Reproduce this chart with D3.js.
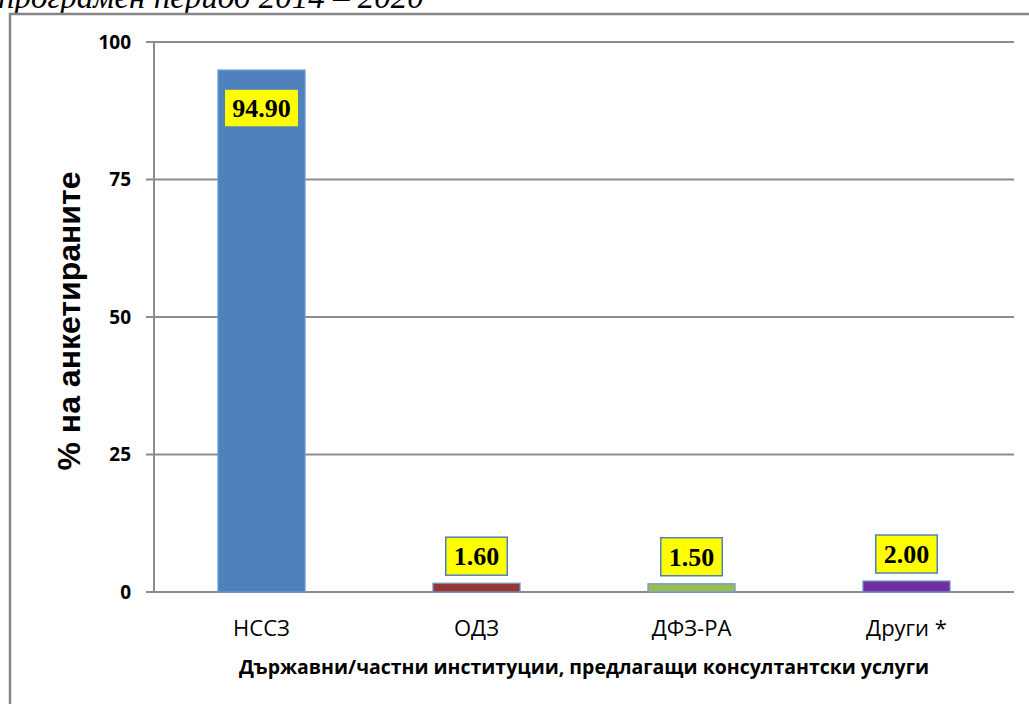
<!DOCTYPE html>
<html>
<head>
<meta charset="utf-8">
<script src="https://cdn.jsdelivr.net/npm/d3@7"></script>
<style>
  body { margin: 0; background: #fff; }
  svg { display: block; }
</style>
</head>
<body>
<script>
// chart data
var categories = ["НССЗ", "ОДЗ", "ДФЗ-РА", "Други *"];
var values = [94.90, 1.60, 1.50, 2.00];
var barColors = ["#4F81BD", "#953735", "#9BBB59", "#7030A0"];
var yTicks = [0, 25, 50, 75, 100];
var titleText = "програмен период 2014 – 2020";
var yTitle = "% на анкетираните";
var xTitle = "Държавни/частни институции, предлагащи консултантски услуги";

var W = 1029, H = 704;
var plot = {left: 154, right: 1014, top: 42, bottom: 592};

var svg = d3.select("body").append("svg")
    .attr("width", W)
    .attr("height", H)
    .style("background", "#fff");

// title, cut off by the top edge like in the original
svg.append("text")
    .attr("x", -2)
    .attr("y", 8)
    .style("font-family", "'Liberation Serif', serif")
    .style("font-style", "italic")
    .style("font-size", "33px")
    .attr("fill", "#000")
    .text(titleText);

// outer frame (runs off the right/bottom edge)
svg.append("rect")
    .attr("x", 10)
    .attr("y", 14)
    .attr("width", W + 20)
    .attr("height", H + 20)
    .attr("fill", "#fff")
    .attr("stroke", "#868686")
    .attr("stroke-width", 2.5);

var x = d3.scaleBand()
    .domain(categories)
    .range([plot.left, plot.right])
    .padding(0);

var y = d3.scaleLinear()
    .domain([0, 100])
    .range([plot.bottom, plot.top]);

// gridlines
svg.append("g")
  .selectAll("line")
  .data(yTicks)
  .enter().append("line")
    .attr("x1", plot.left - 8)
    .attr("x2", plot.right)
    .attr("y1", function(d) { return y(d); })
    .attr("y2", function(d) { return y(d); })
    .attr("stroke", "#8c8c8c")
    .attr("stroke-width", 2);

// y axis line
svg.append("line")
    .attr("x1", plot.left).attr("x2", plot.left)
    .attr("y1", plot.top).attr("y2", plot.bottom)
    .attr("stroke", "#8c8c8c")
    .attr("stroke-width", 2);

// y tick labels
svg.append("g")
  .selectAll("text")
  .data(yTicks)
  .enter().append("text")
    .attr("x", 131)
    .attr("y", function(d) { return y(d); })
    .attr("dy", "0.36em")
    .attr("text-anchor", "end")
    .style("font-family", "'Open Sans', sans-serif")
    .style("font-weight", "bold")
    .style("font-size", "19px")
    .text(function(d) { return d; });

// bars
var barW = x.bandwidth() * 0.405;
svg.append("g")
  .selectAll("rect")
  .data(values)
  .enter().append("rect")
    .attr("x", function(d, i) { return x(categories[i]) + (x.bandwidth() - barW) / 2; })
    .attr("y", function(d) { return y(d); })
    .attr("width", barW)
    .attr("height", function(d) { return y(0) - y(d); })
    .attr("fill", function(d, i) { return barColors[i]; })
    .attr("stroke", "#6d9bd3")
    .attr("stroke-width", 1.2);

// x category labels
svg.append("g")
  .selectAll("text")
  .data(categories)
  .enter().append("text")
    .attr("x", function(d) { return x(d) + x.bandwidth() / 2; })
    .attr("y", 636)
    .attr("text-anchor", "middle")
    .style("font-family", "'Open Sans', sans-serif")
    .style("font-size", "22px")
    .text(function(d) { return d; });

// data labels in yellow boxes
var lab = svg.append("g")
  .selectAll("g")
  .data(values)
  .enter().append("g");

lab.each(function(d, i) {
  var g = d3.select(this);
  var cx = x(categories[i]) + x.bandwidth() / 2;
  var boxH = 38;
  var inside = (y(0) - y(d)) > boxH + 30;
  var boxTop = inside ? y(d) + 19 : y(d) - 8 - boxH;
  var rect = g.append("rect");
  var t = g.append("text")
      .attr("x", cx)
      .attr("y", boxTop + boxH / 2)
      .attr("dy", "0.35em")
      .attr("text-anchor", "middle")
      .style("font-family", "'Liberation Serif', serif")
      .style("font-weight", "bold")
      .style("font-size", "26px")
      .text(d3.format(".2f")(d));
  var tw = t.node().getComputedTextLength();
  rect.attr("x", cx - tw / 2 - 8)
      .attr("y", boxTop)
      .attr("width", tw + 16)
      .attr("height", boxH)
      .attr("fill", "#ffff00")
      .attr("stroke", "#4F81BD")
      .attr("stroke-width", 1.5);
});

// axis titles
svg.append("text")
    .attr("transform", "translate(80," + ((plot.top + plot.bottom) / 2 + 4) + ") rotate(-90)")
    .attr("text-anchor", "middle")
    .style("font-family", "'Liberation Sans', Arial, sans-serif")
    .style("font-weight", "bold")
    .style("font-size", "32px")
    .text(yTitle);

svg.append("text")
    .attr("x", 584)
    .attr("y", 674)
    .attr("text-anchor", "middle")
    .style("font-family", "'Open Sans', sans-serif")
    .style("font-weight", "bold")
    .style("font-size", "19.5px")
    .text(xTitle);
</script>
</body>
</html>
